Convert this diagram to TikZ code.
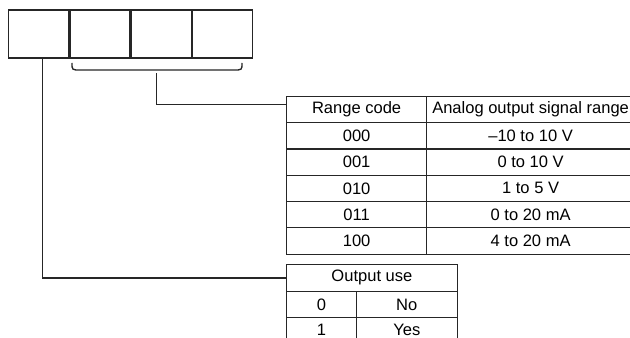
\documentclass[tikz,border=0pt]{standalone}
\usepackage{fontspec}
\setmainfont{Liberation Sans}
\usetikzlibrary{positioning}

\begin{document}
\begin{tikzpicture}[
  x=0.75pt, y=-0.75pt,
  slot/.style={draw=black!85, line width=1pt, minimum width=45pt, minimum height=36pt, inner sep=0pt},
  cell/.style={draw=black!85, line width=0.9pt, inner sep=0pt, anchor=north west, font=\fontsize{12.4}{14}\selectfont},
  codecol/.style={cell, minimum width=105pt, minimum height=19.75pt},
  sigcol/.style={cell, minimum width=156pt, minimum height=19.75pt},
  usehead/.style={cell, minimum width=128pt, minimum height=20pt},
  bitcol/.style={cell, minimum width=52.3pt, minimum height=20pt},
  answer/.style={cell, minimum width=75.7pt, minimum height=20pt},
  wire/.style={draw=black!85, line width=1pt}
]
\useasboundingbox (0,0) rectangle (630,338);

% the four digit slots
\node[slot, anchor=north west] (s1) at (8,9.3) {};
\node[slot, right=0pt of s1] (s2) {};
\node[slot, right=0pt of s2] (s3) {};
\node[slot, right=0pt of s3] (s4) {};

% range code table
\node[codecol] (rc0) at (286,95.7) {Range code};
\node[sigcol] (sr0) at (426,95.7) {Analog output signal range};
\foreach \code/\sig [count=\i] in {000/{--10 to 10 V}, 001/{0 to 10 V}, 010/{1 to 5 V}, 011/{0 to 20 mA}, 100/{4 to 20 mA}}{
  \node[codecol] (rc\i) at (286,{95.7+26.3*\i}) {\code};
  \node[sigcol] (sr\i) at (426,{95.7+26.3*\i}) {\sig};
}

% output use table
\node[usehead] (use0) at (286,264) {Output use};
\node[bitcol] (bit0) at (286,290.6) {0};
\node[answer] (ans0) at (355.7,290.6) {No};
\node[bitcol] (bit1) at (286,317.2) {\raisebox{1.5pt}{1}};
\node[answer] (ans1) at (355.7,317.2) {\raisebox{1.5pt}{Yes}};

% brace under slots 2 to 4
\draw[wire] (72,63) .. controls (72,70) .. (80,70) -- (234,70) .. controls (242,70) .. (242,63);
\coordinate (brace) at (156.7,73.5);

\draw[wire] (brace) |- ([yshift=3.6pt]rc0.west);
\draw[wire] ([xshift=2.8pt]s1.south) |- (use0.west);
\end{tikzpicture}
\end{document}
